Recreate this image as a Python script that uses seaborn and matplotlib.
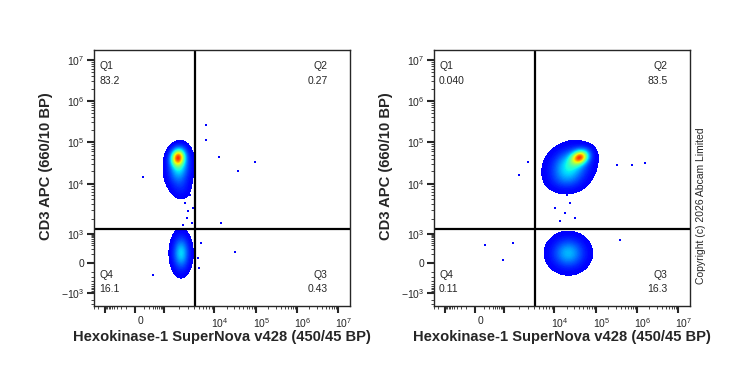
import numpy as np
import matplotlib
matplotlib.use('Agg')
import matplotlib.pyplot as plt
import matplotlib.ticker as mticker
import matplotlib.transforms as mtransforms
from matplotlib.colors import ListedColormap, PowerNorm
import seaborn as sns

# biexponential display: values and where they land on the display axis
scale_values = [-1e5, -1e3, 0, 1e3, 1e4, 1e5, 1e6, 1e7, 1e9]
scale_pos = [-76, -30, 0, 29, 79, 121, 162, 203, 285]

x_label = 'Hexokinase-1 SuperNova v428 (450/45 BP)'
y_label = 'CD3 APC (660/10 BP)'
x_gate = 4.2e3
y_gate = 1.26e3

quad_names = ['Q1', 'Q2', 'Q3', 'Q4']
left_quads = ['83.2', '0.27', '0.43', '16.1']
right_quads = ['0.040', '83.5', '16.3', '0.11']

# populations: centre in data units, spread in display units, tilt, relative peak density
left_pop_x = [1.9e3, 2.0e3, 2.3e3, 2.2e3]
left_pop_y = [4.4e4, 2.4e4, 8.0e3, 120]
left_pop_sx = [5, 7, 6, 5.5]
left_pop_sy = [6, 11, 7, 11]
left_pop_rho = [0.1, 0.1, 0.0, 0.0]
left_pop_peak = [0.72, 0.36, 0.06, 0.36]

right_pop_x = [4.2e4, 2.4e4, 2.0e4, 2.2e4]
right_pop_y = [4.4e4, 2.7e4, 1.2e4, 120]
right_pop_sx = [6, 12, 11, 11]
right_pop_sy = [5, 11, 7, 10]
right_pop_rho = [0.2, 0.15, 0.0, 0.0]
right_pop_peak = [0.7, 0.4, 0.08, 0.32]

# sparse single events
left_ev_x = [6.8e3, 6.8e3, 1.3e4, 3.7e4, 9.5e4, 1.5e4, 3.2e4, 92, 314,
             2.6e3, 2.9e3, 3.3e3, 2.4e3, 3.0e3, 3.6e3, 3.8e3, 4.8e3, 5.5e3, 5.0e3]
left_ev_y = [2.6e5, 1.12e5, 4.4e4, 2.0e4, 3.3e4, 1.7e3, 135, 1.5e4, -151,
             4.2e3, 2.1e3, 6.0e3, 1.5e3, 2.9e3, 1.66e3, 3.3e3, 55, 392, -50]
right_ev_x = [2.0e3, 3.0e3, 122, 1.5e3, 900, 7.5e5, 1.57e6, 3.25e5, 3.85e5,
              1.83e4, 2.4e4, 1.4e4, 3.2e4, 2.0e4, 1.06e4]
right_ev_y = [1.64e4, 3.3e4, 314, 390, 31, 2.8e4, 3.1e4, 2.8e4, 535,
              2.6e3, 4.2e3, 1.8e3, 2.1e3, 6.0e3, 3.3e3]

major_vals = [-1e3, 0, 1e3, 1e4, 1e5, 1e6, 1e7]
y_tick_labels = [r'$\mathregular{-10^3}$', '0', r'$\mathregular{10^3}$', r'$\mathregular{10^4}$',
                 r'$\mathregular{10^5}$', r'$\mathregular{10^6}$', r'$\mathregular{10^7}$']
x_tick_labels = ['', '0', '', r'$\mathregular{10^4}$', r'$\mathregular{10^5}$',
                 r'$\mathregular{10^6}$', r'$\mathregular{10^7}$']

as_knots = np.arcsinh(np.array(scale_values) / 100.0)
pos_knots = np.array(scale_pos, dtype=float)


def fwd(v):
    return np.interp(np.arcsinh(np.asarray(v, dtype=float) / 100.0), as_knots, pos_knots)


def inv(p):
    return 100.0 * np.sinh(np.interp(np.asarray(p, dtype=float), pos_knots, as_knots))


sns.set_style('ticks')
plt.rcParams['font.family'] = ['Liberation Sans', 'DejaVu Sans']
plt.rcParams['mathtext.fontset'] = 'custom'
plt.rcParams['mathtext.rm'] = 'Liberation Sans'

jet = plt.get_cmap('jet')
cmap = ListedColormap(jet(np.linspace(0.11, 0.92, 256)))

minor_vals = [s * m for s in (-1, 1) for m in range(100, 1000, 100)]
minor_vals += [m * 10 ** k for k in range(3, 7) for m in range(2, 10)]
minor_vals += [-m * 1e3 for m in range(2, 10)]

xlo, xhi = -41, 215
ylo, yhi = -43, 213
edges_x = np.linspace(xlo, xhi, 257)
edges_y = np.linspace(ylo, yhi, 257)
cx = 0.5 * (edges_x[1:] + edges_x[:-1])
cy = 0.5 * (edges_y[1:] + edges_y[:-1])
GX, GY = np.meshgrid(cx, cy)
EX, EY = np.meshgrid(inv(edges_x), inv(edges_y))

fig = plt.figure(figsize=(7.39, 3.70), dpi=100)
ax_l = fig.add_axes([94 / 739, 64 / 370, 256 / 739, 256 / 370])
ax_r = fig.add_axes([434 / 739, 64 / 370, 256 / 739, 256 / 370])

panels = [
    (ax_l, left_pop_x, left_pop_y, left_pop_sx, left_pop_sy, left_pop_rho, left_pop_peak,
     left_ev_x, left_ev_y, left_quads),
    (ax_r, right_pop_x, right_pop_y, right_pop_sx, right_pop_sy, right_pop_rho, right_pop_peak,
     right_ev_x, right_ev_y, right_quads),
]

for ax, px, py, sx, sy, rho, peak, ex, ey, quads in panels:
    ax.set_xscale('function', functions=(fwd, inv))
    ax.set_yscale('function', functions=(fwd, inv))

    field = np.zeros_like(GX)
    for i in range(len(px)):
        dx = (GX - fwd(px[i])) / sx[i]
        dy = (GY - fwd(py[i])) / sy[i]
        q = (dx ** 2 - 2 * rho[i] * dx * dy + dy ** 2) / (1 - rho[i] ** 2)
        field += peak[i] * np.exp(-0.5 * q)
    field = np.clip(field, 0, 1)
    field = np.ma.masked_less(field, 0.025)
    ax.pcolormesh(EX, EY, field, cmap=cmap, norm=PowerNorm(1.25, vmin=0, vmax=1),
                  shading='flat', rasterized=True)

    sns.scatterplot(x=ex, y=ey, ax=ax, color='#0000ff', marker='s', s=2.5,
                    linewidth=0, legend=False)

    ax.axvline(x_gate, color='black', lw=1.6)
    ax.axhline(y_gate, color='black', lw=1.6)

    ax.set_xlim(inv(xlo), inv(xhi))
    ax.set_ylim(inv(ylo), inv(yhi))

    ax.xaxis.set_major_locator(mticker.FixedLocator(major_vals))
    ax.yaxis.set_major_locator(mticker.FixedLocator(major_vals))
    ax.xaxis.set_minor_locator(mticker.FixedLocator(minor_vals))
    ax.yaxis.set_minor_locator(mticker.FixedLocator(minor_vals))
    ax.xaxis.set_minor_formatter(mticker.NullFormatter())
    ax.yaxis.set_minor_formatter(mticker.NullFormatter())
    ax.set_xticklabels(x_tick_labels)
    ax.set_yticklabels(y_tick_labels)
    ax.tick_params(which='major', direction='out', length=5, width=1.5, labelsize=7.5, pad=2)
    ax.tick_params(which='minor', direction='out', length=2.5, width=0.6)
    shift = mtransforms.ScaledTranslation(4 / 72, 0, fig.dpi_scale_trans)
    for lab in ax.get_xticklabels():
        lab.set_transform(lab.get_transform() + shift)
    for sp in ax.spines.values():
        sp.set_linewidth(1.0)

    ax.set_xlabel(x_label, fontsize=10.6, fontweight='bold')
    ax.set_ylabel(y_label, fontsize=10.6, fontweight='bold')
    ax.xaxis.set_label_coords(0.5, -0.093)
    ax.yaxis.set_label_coords(-0.16, 0.547)

    ax.text(0.02, 0.9375, quad_names[0], transform=ax.transAxes, fontsize=7.5, va='center', ha='left')
    ax.text(0.02, 0.877, quads[0], transform=ax.transAxes, fontsize=7.5, va='center', ha='left')
    ax.text(0.913, 0.9375, quad_names[1], transform=ax.transAxes, fontsize=7.5, va='center', ha='right')
    ax.text(0.913, 0.877, quads[1], transform=ax.transAxes, fontsize=7.5, va='center', ha='right')
    ax.text(0.913, 0.121, quad_names[2], transform=ax.transAxes, fontsize=7.5, va='center', ha='right')
    ax.text(0.913, 0.066, quads[2], transform=ax.transAxes, fontsize=7.5, va='center', ha='right')
    ax.text(0.02, 0.121, quad_names[3], transform=ax.transAxes, fontsize=7.5, va='center', ha='left')
    ax.text(0.02, 0.066, quads[3], transform=ax.transAxes, fontsize=7.5, va='center', ha='left')

fig.text(701 / 739, 164 / 370, 'Copyright (c) 2026 Abcam Limited', rotation=90,
         ha='center', va='center', fontsize=7.5)

fig.savefig('out.png', dpi=100)
